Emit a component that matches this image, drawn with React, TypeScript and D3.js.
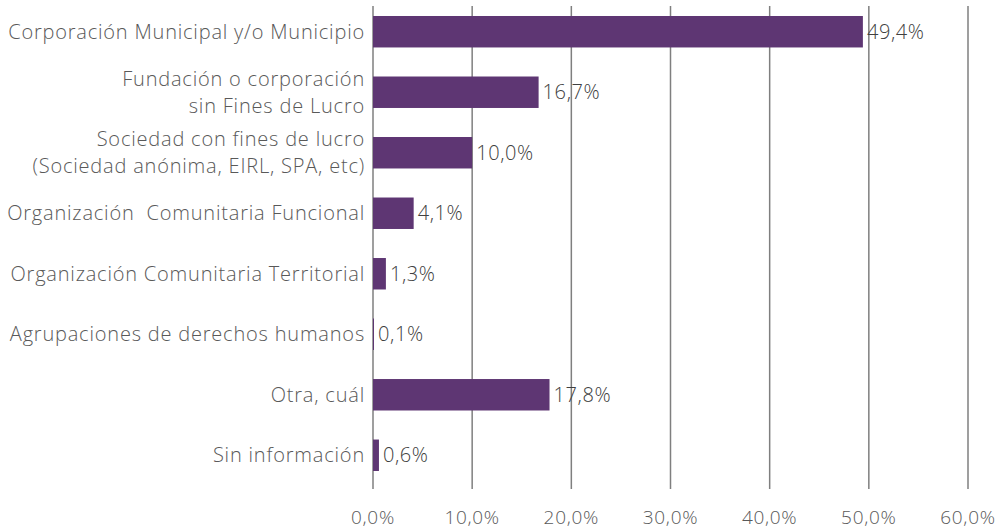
import { useEffect, useRef } from 'react';
import * as d3 from 'd3';

// categories (one string per line of the label)
const categories: string[][] = [
  ['Corporación Municipal y/o Municipio'],
  ['Fundación o corporación', 'sin Fines de Lucro'],
  ['Sociedad con fines de lucro', '(Sociedad anónima, EIRL, SPA, etc)'],
  ['Organización  Comunitaria Funcional'],
  ['Organización Comunitaria Territorial'],
  ['Agrupaciones de derechos humanos'],
  ['Otra, cuál'],
  ['Sin información'],
];
const values = [49.4, 16.7, 10.0, 4.1, 1.3, 0.1, 17.8, 0.6];
const ticks = [0, 10, 20, 30, 40, 50, 60];

const fmt = (v: number) => v.toFixed(1).replace('.', ',') + '%';
const FONT = "'Open Sans'";

export default function App() {
  const ref = useRef<SVGSVGElement>(null);
  const width = 1001;
  const height = 530;
  const left = 373;
  const right = 968;
  const top = 6;
  const bottom = 489;

  useEffect(() => {
    const svg = d3.select(ref.current);
    svg.selectAll('*').remove();

    const x = d3.scaleLinear().domain([0, 60]).range([left, right]);
    const y = d3.scaleBand<number>()
      .domain(d3.range(categories.length))
      .range([16, 471])
      .paddingInner(0.48)
      .paddingOuter(0);

    // gridlines
    svg.append('g')
      .selectAll('line')
      .data(ticks)
      .enter()
      .append('line')
      .attr('x1', (d) => x(d))
      .attr('x2', (d) => x(d))
      .attr('y1', top)
      .attr('y2', bottom)
      .attr('stroke', '#7f7f7f')
      .attr('stroke-width', 1.5);

    // tick labels
    svg.append('g')
      .selectAll('text')
      .data(ticks)
      .enter()
      .append('text')
      .attr('x', (d) => x(d))
      .attr('y', 517)
      .attr('dy', '0.35em')
      .attr('text-anchor', 'middle')
      .attr('font-family', FONT)
      .attr('font-weight', 300)
      .attr('font-size', 19)
      .attr('letter-spacing', 0.7)
      .attr('fill', '#595959')
      .text((d) => fmt(d));

    // bars
    svg.append('g')
      .selectAll('rect')
      .data(values)
      .enter()
      .append('rect')
      .attr('x', x(0))
      .attr('y', (_, i) => y(i)!)
      .attr('width', (d) => x(d) - x(0))
      .attr('height', y.bandwidth())
      .attr('fill', '#5e3673');

    // value labels
    svg.append('g')
      .selectAll('text')
      .data(values)
      .enter()
      .append('text')
      .attr('x', (d) => x(d) + 4)
      .attr('y', (_, i) => y(i)! + y.bandwidth() / 2)
      .attr('dy', '0.35em')
      .attr('font-family', FONT)
      .attr('font-weight', 300)
      .attr('font-size', 20)
      .attr('letter-spacing', 0.6)
      .attr('fill', '#404040')
      .text((d) => fmt(d));

    // category labels, one text per line
    const rows = categories.flatMap((lines, i) =>
      lines.map((line, j) => ({ line, i, off: j - (lines.length - 1) / 2 })));

    svg.append('g')
      .selectAll('text')
      .data(rows)
      .enter()
      .append('text')
      .attr('x', 365)
      .attr('y', (d) => y(d.i)! + y.bandwidth() / 2 + d.off * 27)
      .attr('dy', '0.35em')
      .attr('text-anchor', 'end')
      .attr('font-family', FONT)
      .attr('font-weight', 300)
      .attr('font-size', 20)
      .attr('letter-spacing', 0.8)
      .attr('fill', '#595959')
      .style('white-space', 'pre')
      .text((d) => d.line);
  }, []);

  return (
    <svg
      ref={ref}
      width={width}
      height={height}
      style={{ position: 'absolute', left: 0, top: 0, background: '#fff' }}
    />
  );
}
